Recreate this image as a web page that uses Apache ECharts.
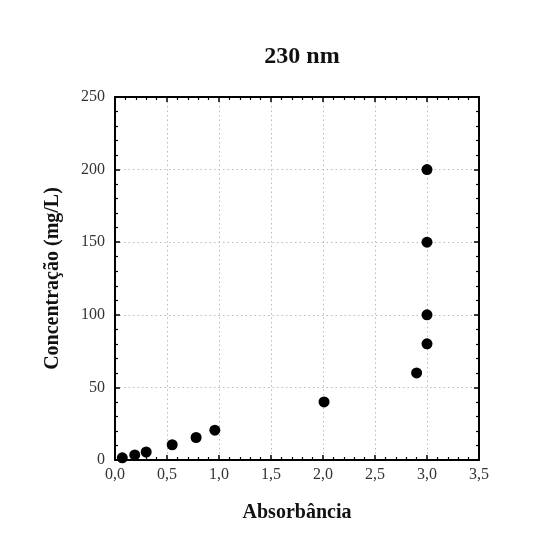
<!DOCTYPE html>
<html>
<head>
<meta charset="utf-8">
<script src="https://cdn.jsdelivr.net/npm/echarts@6/dist/echarts.min.js"></script>
<style>
html,body{margin:0;padding:0;background:#fff;}
#c{width:535px;height:541px;}
</style>
</head>
<body>
<div id="c"></div>
<script>
const title = '230 nm';
const xName = 'Absorbância';
const yName = 'Concentração (mg/L)';
const absorbance = [0.07, 0.19, 0.30, 0.55, 0.78, 0.96, 2.01, 2.90, 3.00, 3.00, 3.00, 3.00];
const concentration = [1.5, 3.5, 5.5, 10.5, 15.5, 20.5, 40, 60, 80, 100, 150, 200];
const xTicks = [0, 0.5, 1.0, 1.5, 2.0, 2.5, 3.0, 3.5];
const yTicks = [0, 50, 100, 150, 200, 250];

const font = '"Liberation Serif","Times New Roman",serif';
const chart = echarts.init(document.getElementById('c'));
const points = absorbance.map((x, i) => [x, concentration[i]]);

const baseAxis = {
  axisLine: {show: true, onZero: false, lineStyle: {color: '#000', width: 2}},
  axisTick: {show: true, inside: true, length: 5, lineStyle: {color: '#000', width: 1.5}},
  minorTick: {show: true, splitNumber: 5, length: 3, lineStyle: {color: '#000', width: 1.2}}
};

chart.setOption({
  backgroundColor: '#fff',
  animation: false,
  title: {
    text: title, left: 297, top: 40, textAlign: 'center',
    textStyle: {fontFamily: font, fontSize: 24, fontWeight: 'bold', color: '#111'}
  },
  grid: {left: 115, right: 56, top: 97, bottom: 81, containLabel: false},
  xAxis: [
    Object.assign({}, baseAxis, {
      type: 'value', min: xTicks[0], max: xTicks[xTicks.length - 1], interval: 0.5,
      position: 'bottom',
      name: xName, nameLocation: 'middle', nameGap: 43,
      nameTextStyle: {fontFamily: font, fontSize: 20, fontWeight: 'bold', color: '#111'},
      axisLabel: {fontFamily: font, fontSize: 16, color: '#333', margin: 7,
        formatter: v => v.toFixed(1).replace('.', ',')},
      splitLine: {show: true, lineStyle: {color: '#bbb', type: [1.5, 3], width: 1}}
    }),
    Object.assign({}, baseAxis, {
      type: 'value', min: xTicks[0], max: xTicks[xTicks.length - 1], interval: 0.5,
      position: 'top', axisLabel: {show: false}, splitLine: {show: false}
    })
  ],
  yAxis: [
    Object.assign({}, baseAxis, {
      type: 'value', min: yTicks[0], max: yTicks[yTicks.length - 1], interval: 50,
      position: 'left',
      name: yName, nameLocation: 'middle', nameGap: 52,
      nameTextStyle: {fontFamily: font, fontSize: 20, fontWeight: 'bold', color: '#111'},
      axisLabel: {fontFamily: font, fontSize: 16, color: '#333', margin: 10},
      splitLine: {show: true, lineStyle: {color: '#bbb', type: [1.5, 3], width: 1}}
    }),
    Object.assign({}, baseAxis, {
      type: 'value', min: yTicks[0], max: yTicks[yTicks.length - 1], interval: 50,
      position: 'right', axisLabel: {show: false}, splitLine: {show: false}
    })
  ],
  series: [{
    type: 'scatter', xAxisIndex: 0, yAxisIndex: 0,
    data: points, symbol: 'circle', symbolSize: 11,
    itemStyle: {color: '#000', opacity: 1}
  }]
});
</script>
</body>
</html>
